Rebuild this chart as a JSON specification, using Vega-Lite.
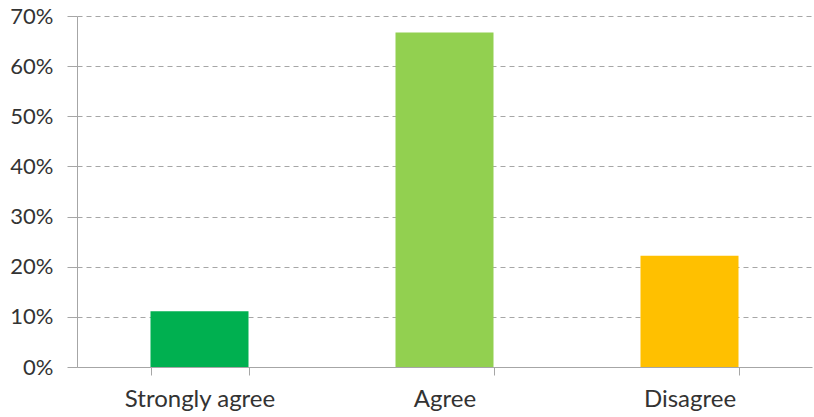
{
  "$schema": "https://vega.github.io/schema/vega-lite/v6.json",
  "autosize": "none",
  "width": 735,
  "height": 351,
  "padding": {"left": 77, "top": 16, "right": 2, "bottom": 50},
  "background": "white",
  "data": {
    "values": [
      {"response": "Strongly agree", "share": 0.111},
      {"response": "Agree", "share": 0.667},
      {"response": "Disagree", "share": 0.222}
    ]
  },
  "mark": {"type": "bar"},
  "encoding": {
    "x": {
      "field": "response",
      "type": "nominal",
      "sort": null,
      "title": null,
      "scale": {"paddingInner": 0.6, "paddingOuter": 0.3},
      "axis": {
        "labelAngle": 0,
        "labelFont": "Lato",
        "labelFontSize": 24,
        "labelColor": "#333333",
        "labelPadding": 12,
        "tickBand": "extent",
        "tickSize": 8,
        "tickColor": "#A6A6A6",
        "domainColor": "#A6A6A6",
        "grid": false
      }
    },
    "y": {
      "field": "share",
      "type": "quantitative",
      "title": null,
      "scale": {"domain": [0, 0.7], "nice": false},
      "axis": {
        "format": ".0%",
        "values": [0, 0.1, 0.2, 0.3, 0.4, 0.5, 0.6, 0.7],
        "labelFont": "Lato",
        "labelFontSize": 22,
        "labelColor": "#333333",
        "labelPadding": 14,
        "tickSize": 10,
        "tickColor": "#A6A6A6",
        "domainColor": "#A6A6A6",
        "grid": true,
        "gridColor": "#A6A6A6",
        "gridDash": [5, 4],
        "gridWidth": 1
      }
    },
    "color": {
      "field": "response",
      "type": "nominal",
      "sort": null,
      "legend": null,
      "scale": {
        "domain": ["Strongly agree", "Agree", "Disagree"],
        "range": ["#00B050", "#92D050", "#FFC000"]
      }
    }
  },
  "config": {"view": {"stroke": null}}
}
